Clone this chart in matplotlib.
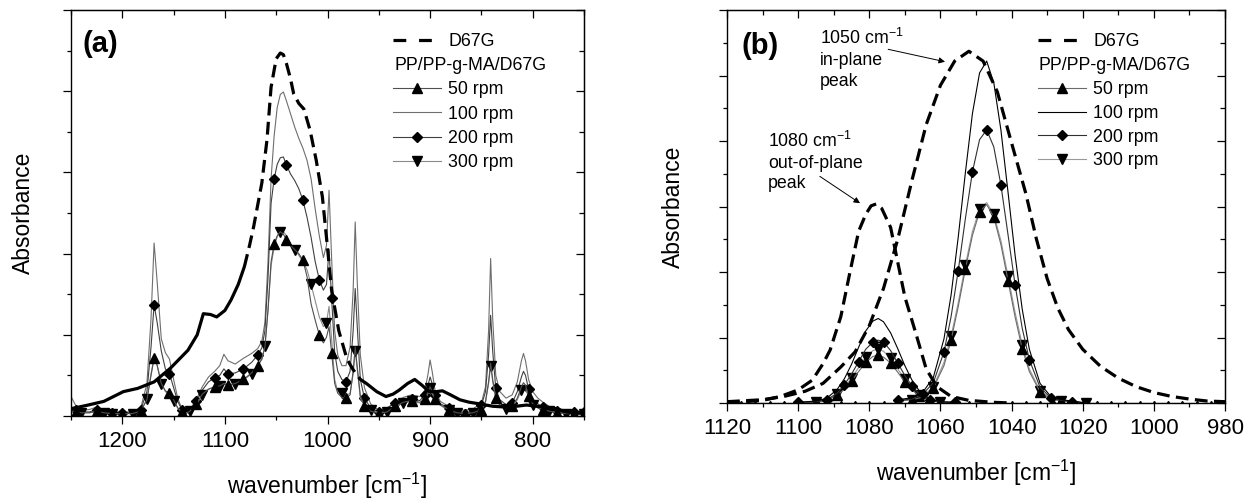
import matplotlib
matplotlib.use('Agg')
import matplotlib.pyplot as plt
import numpy as np
from matplotlib.ticker import MultipleLocator, NullFormatter
from matplotlib.lines import Line2D

plt.rcParams['font.family'] = ['Liberation Sans', 'DejaVu Sans']
plt.rcParams['mathtext.fontset'] = 'custom'
plt.rcParams['mathtext.rm'] = 'Liberation Sans'
plt.rcParams['mathtext.it'] = 'Liberation Sans:italic'

# ---------------- panel (a): full spectra ----------------
wn_d67g_a = [1250, 1235, 1218, 1199, 1185, 1169, 1153, 1136, 1127, 1121, 1114, 1108, 1100, 1094, 1087,
             1081, 1076, 1072, 1068, 1064, 1059, 1055, 1050, 1046, 1043, 1040, 1036, 1033, 1028, 1023,
             1017, 1011, 1005, 1001, 996, 989, 981, 975, 968, 962, 952, 943, 936, 930, 922,
             915, 908, 901, 894, 888, 880, 871, 862, 852, 839, 826, 816, 806, 796, 787,
             777, 767, 759, 750]
abs_d67g_a = [0.09, 0.13, 0.18, 0.30, 0.34, 0.42, 0.59, 0.81, 1.00, 1.26, 1.25, 1.22, 1.30, 1.43, 1.62,
              1.84, 2.10, 2.33, 2.60, 2.87, 3.40, 4.05, 4.40, 4.47, 4.45, 4.34, 4.15, 3.97, 3.85, 3.78,
              3.52, 3.15, 2.70, 2.20, 1.55, 1.05, 0.70, 0.57, 0.45, 0.40, 0.30, 0.24, 0.27, 0.32, 0.40,
              0.45, 0.38, 0.30, 0.30, 0.31, 0.26, 0.20, 0.17, 0.15, 0.12, 0.11, 0.12, 0.135, 0.12, 0.11,
              0.09, 0.05, 0.04, 0.03]

wn_a = [1250, 1245, 1240, 1232, 1225, 1218, 1210, 1200, 1190, 1182, 1176, 1172, 1169, 1166, 1162,
        1158, 1154, 1150, 1146, 1142, 1138, 1134, 1128, 1122, 1116, 1110, 1105, 1101, 1097, 1090,
        1082, 1074, 1068, 1064, 1061, 1058, 1055, 1052, 1049, 1046, 1043, 1040, 1036, 1032, 1028,
        1024, 1020, 1016, 1012, 1008, 1004, 1001, 998.5, 996, 993, 990, 986, 982, 978, 975,
        973, 971, 968, 964, 958, 950, 942, 934, 926, 918, 910, 905, 902, 900, 898,
        895, 890, 882, 874, 866, 858, 850, 846, 843, 841, 839, 836, 832, 826, 820,
        815, 811, 809, 807, 804, 800, 795, 790, 784, 776, 768, 760, 750]

abs_50_a = [0.06, 0.05, 0.04, 0.04, 0.06, 0.04, 0.03, 0.03, 0.03, 0.06, 0.20, 0.50, 0.71, 0.62, 0.40,
            0.31, 0.28, 0.20, 0.10, 0.05, 0.03, 0.06, 0.15, 0.27, 0.33, 0.36, 0.37, 0.40, 0.38, 0.40,
            0.45, 0.53, 0.62, 0.70, 0.85, 1.30, 1.90, 2.12, 2.22, 2.27, 2.24, 2.17, 2.10, 2.05, 2.00,
            1.92, 1.72, 1.38, 1.18, 1.00, 0.90, 0.97, 1.10, 0.78, 0.40, 0.28, 0.23, 0.22, 0.26, 0.55,
            0.85, 0.60, 0.25, 0.12, 0.06, 0.03, 0.05, 0.12, 0.17, 0.19, 0.17, 0.21, 0.30, 0.36, 0.30,
            0.21, 0.14, 0.08, 0.04, 0.03, 0.04, 0.08, 0.18, 0.42, 0.65, 0.45, 0.22, 0.14, 0.10, 0.12,
            0.22, 0.36, 0.41, 0.38, 0.25, 0.15, 0.10, 0.08, 0.06, 0.04, 0.03, 0.03, 0.03]
abs_100_a = [0.24, 0.12, 0.07, 0.08, 0.11, 0.07, 0.05, 0.05, 0.05, 0.10, 0.40, 1.20, 2.13, 1.65, 0.95,
             0.78, 0.70, 0.45, 0.22, 0.09, 0.05, 0.08, 0.20, 0.36, 0.48, 0.55, 0.62, 0.76, 0.68, 0.64,
             0.71, 0.77, 0.83, 0.92, 1.15, 1.90, 2.92, 3.45, 3.80, 3.96, 3.99, 3.88, 3.72, 3.56, 3.42,
             3.30, 3.15, 2.92, 2.55, 2.22, 1.95, 2.10, 2.78, 1.95, 1.05, 0.75, 0.62, 0.62, 0.85, 1.55,
             2.39, 1.65, 0.75, 0.35, 0.15, 0.07, 0.09, 0.17, 0.23, 0.26, 0.24, 0.32, 0.52, 0.69, 0.55,
             0.30, 0.18, 0.12, 0.08, 0.07, 0.09, 0.16, 0.36, 1.05, 1.94, 1.20, 0.50, 0.30, 0.22, 0.26,
             0.42, 0.68, 0.77, 0.68, 0.45, 0.30, 0.22, 0.17, 0.12, 0.07, 0.05, 0.04, 0.03]
abs_200_a = [0.10, 0.07, 0.05, 0.05, 0.08, 0.05, 0.04, 0.04, 0.04, 0.08, 0.30, 0.85, 1.37, 1.15, 0.80,
             0.58, 0.52, 0.35, 0.18, 0.08, 0.04, 0.07, 0.18, 0.32, 0.42, 0.47, 0.50, 0.58, 0.52, 0.53,
             0.58, 0.66, 0.75, 0.84, 1.05, 1.70, 2.62, 2.92, 3.10, 3.18, 3.19, 3.09, 2.98, 2.90, 2.80,
             2.66, 2.45, 2.20, 1.90, 1.68, 1.55, 1.62, 2.05, 1.45, 0.78, 0.55, 0.45, 0.42, 0.55, 1.05,
             1.57, 1.10, 0.45, 0.22, 0.10, 0.05, 0.10, 0.16, 0.20, 0.21, 0.19, 0.26, 0.38, 0.48, 0.40,
             0.26, 0.15, 0.10, 0.05, 0.03, 0.06, 0.13, 0.30, 0.75, 1.24, 0.80, 0.34, 0.20, 0.14, 0.16,
             0.30, 0.48, 0.55, 0.50, 0.33, 0.20, 0.15, 0.11, 0.08, 0.06, 0.05, 0.05, 0.05]
abs_300_a = [0.06, 0.05, 0.04, 0.04, 0.05, 0.04, 0.03, 0.03, 0.03, 0.06, 0.21, 0.52, 0.72, 0.63, 0.40,
             0.30, 0.26, 0.19, 0.10, 0.05, 0.03, 0.06, 0.14, 0.26, 0.33, 0.36, 0.37, 0.40, 0.38, 0.39,
             0.44, 0.52, 0.62, 0.70, 0.86, 1.30, 1.85, 2.08, 2.21, 2.27, 2.27, 2.22, 2.12, 2.05, 1.98,
             1.90, 1.80, 1.62, 1.42, 1.22, 1.10, 1.15, 1.35, 0.95, 0.45, 0.30, 0.28, 0.25, 0.28, 0.52,
             0.80, 0.58, 0.22, 0.14, 0.08, 0.04, 0.05, 0.11, 0.16, 0.18, 0.16, 0.20, 0.28, 0.34, 0.28,
             0.20, 0.13, 0.07, 0.04, 0.03, 0.04, 0.07, 0.17, 0.40, 0.62, 0.43, 0.21, 0.13, 0.09, 0.11,
             0.20, 0.32, 0.36, 0.34, 0.23, 0.14, 0.10, 0.08, 0.06, 0.04, 0.03, 0.03, 0.03]

# ---------------- panel (b): fitted component peaks ----------------
wn_d67g_b1 = [1120, 1110, 1105, 1100, 1096, 1093, 1091, 1088, 1085.5, 1083, 1081, 1079.5, 1078, 1076.5,
              1074, 1072, 1070, 1067, 1064, 1061, 1057, 1052, 1045, 1040]
abs_d67g_b1 = [0.0, 0.04, 0.10, 0.20, 0.35, 0.60, 0.81, 1.32, 1.98, 2.62, 2.88, 3.01, 3.04, 2.97,
               2.68, 2.15, 1.62, 1.08, 0.52, 0.25, 0.10, 0.04, 0.01, 0.0]
wn_d67g_b2 = [1120, 1110, 1104, 1098, 1093, 1088, 1084, 1080, 1076, 1072, 1068, 1064, 1060, 1056, 1052,
              1048, 1044, 1040, 1036, 1033, 1030, 1027, 1024, 1020, 1015, 1010, 1005, 1000, 995, 990,
              985, 980]
abs_d67g_b2 = [0.02, 0.05, 0.10, 0.18, 0.30, 0.55, 0.78, 1.18, 1.75, 2.50, 3.40, 4.25, 4.85, 5.22, 5.37,
               5.22, 4.75, 3.97, 3.20, 2.50, 1.90, 1.45, 1.12, 0.82, 0.56, 0.38, 0.25, 0.16, 0.10, 0.06,
               0.03, 0.02]

wn_low_b = [1100, 1095, 1092, 1089, 1087, 1085, 1083, 1081, 1079, 1077.5, 1076, 1074, 1072, 1070, 1068,
            1066, 1063, 1060, 1056]
abs_50_low = [0.0, 0.01, 0.04, 0.12, 0.21, 0.34, 0.48, 0.62, 0.71, 0.73, 0.70, 0.61, 0.47, 0.32, 0.20,
              0.11, 0.04, 0.01, 0.0]
abs_100_low = [0.01, 0.03, 0.07, 0.21, 0.37, 0.59, 0.85, 1.10, 1.25, 1.29, 1.24, 1.07, 0.83, 0.57, 0.35,
               0.19, 0.06, 0.02, 0.01]
abs_200_low = [0.01, 0.02, 0.05, 0.15, 0.28, 0.44, 0.63, 0.82, 0.93, 0.96, 0.93, 0.80, 0.61, 0.42, 0.26,
               0.14, 0.05, 0.02, 0.01]
abs_300_low = [0.01, 0.02, 0.04, 0.13, 0.24, 0.38, 0.54, 0.70, 0.80, 0.82, 0.79, 0.68, 0.52, 0.36, 0.22,
               0.12, 0.04, 0.01, 0.0]

wn_high_b = [1072, 1068, 1065, 1062, 1059, 1057, 1055, 1053, 1051, 1049, 1047, 1045, 1043, 1041, 1039,
             1037, 1035, 1032, 1029, 1026, 1023, 1019]
abs_50_high = [0.03, 0.05, 0.09, 0.23, 0.57, 0.96, 1.47, 2.04, 2.56, 2.92, 3.03, 2.84, 2.42, 1.87, 1.31,
               0.83, 0.48, 0.17, 0.06, 0.03, 0.02, 0.0]
abs_100_high = [0.05, 0.08, 0.16, 0.39, 0.98, 1.65, 2.53, 3.51, 4.42, 5.04, 5.22, 4.89, 4.17, 3.22, 2.25,
                1.43, 0.82, 0.30, 0.10, 0.05, 0.03, 0.0]
abs_200_high = [0.04, 0.06, 0.13, 0.31, 0.78, 1.32, 2.02, 2.81, 3.53, 4.02, 4.17, 3.91, 3.33, 2.57, 1.80,
                1.14, 0.66, 0.24, 0.08, 0.04, 0.02, 0.0]
abs_300_high = [0.03, 0.05, 0.10, 0.25, 0.62, 1.02, 1.53, 2.10, 2.62, 2.96, 3.06, 2.88, 2.48, 1.94, 1.38,
                0.89, 0.52, 0.19, 0.07, 0.03, 0.02, 0.0]

wn_base_b = [1120, 1116, 1112, 1108, 1104, 1100, 1096, 1092, 1088, 1084, 1080, 1076, 1072, 1068, 1064,
             1060, 1056, 1052, 1048, 1044, 1040, 1036, 1032, 1028, 1024, 1020, 1016, 1012, 1008, 1004,
             1000, 996, 992, 988, 984, 980]
abs_base_b = [0.0] * len(wn_base_b)

labels = ['50 rpm', '100 rpm', '200 rpm', '300 rpm']
styles_a = {
    '50 rpm': dict(color='#505050', marker='^', ms=6.5),
    '100 rpm': dict(color='#6e6e6e', marker=None, ms=0),
    '200 rpm': dict(color='#404040', marker='D', ms=5),
    '300 rpm': dict(color='#8a8a8a', marker='v', ms=6.5),
}
styles_b = {
    '50 rpm': dict(color='#6a6a6a', marker='^', ms=6.5),
    '100 rpm': dict(color='black', marker=None, ms=0),
    '200 rpm': dict(color='#303030', marker='D', ms=5),
    '300 rpm': dict(color='#999999', marker='v', ms=6.5),
}
mark_start_a = {'50 rpm': 1243, '200 rpm': 1243, '300 rpm': 1236}
DASH = (4, 2)
LW_D67G = 2.3
LW_S = 0.8
FS_LEG = 12.8


def mark_index(wn, start, step=14.6):
    wn = np.asarray(wn)
    targets = np.arange(start, 745, -step)
    return sorted({int(np.abs(wn - t).argmin()) for t in targets})


def style_axes(ax, xmaj, xmin, ymaj, ymin, xlim, ylim, pad):
    ax.set_xlim(*xlim)
    ax.set_ylim(*ylim)
    ax.xaxis.set_major_locator(MultipleLocator(xmaj))
    ax.xaxis.set_minor_locator(MultipleLocator(xmin))
    ax.yaxis.set_major_locator(MultipleLocator(ymaj))
    ax.yaxis.set_minor_locator(MultipleLocator(ymin))
    ax.yaxis.set_major_formatter(NullFormatter())
    ax.tick_params(which='both', direction='out', width=0.9, labelsize=16, pad=pad)
    ax.tick_params(which='major', length=5.5)
    ax.tick_params(which='minor', length=3)
    for s in ax.spines.values():
        s.set_linewidth(1.0)
    top = ax.secondary_xaxis('top')
    top.xaxis.set_major_locator(MultipleLocator(xmaj))
    top.xaxis.set_minor_locator(MultipleLocator(xmin))
    top.tick_params(which='both', direction='in', labeltop=False, width=0.9)
    top.tick_params(which='major', length=5.5)
    top.tick_params(which='minor', length=3.5)
    right = ax.secondary_yaxis('right')
    right.yaxis.set_major_locator(MultipleLocator(ymaj))
    right.yaxis.set_minor_locator(MultipleLocator(ymin))
    right.tick_params(which='both', direction='in', labelright=False, width=0.9)
    right.tick_params(which='major', length=5.5)
    right.tick_params(which='minor', length=3.5)


def add_legend(ax, styles, x0, y_d67g, y_head, y_rows, spacing):
    h_d = [Line2D([], [], color='black', lw=LW_D67G, dashes=(4, 4))]
    leg1 = ax.legend(h_d, ['D67G'], loc='upper left', bbox_to_anchor=(x0, y_d67g), frameon=False,
                     borderpad=0, borderaxespad=0, handlelength=2.7, handletextpad=0.4, fontsize=FS_LEG)
    ax.add_artist(leg1)
    ax.text(x0 + 0.002, y_head, 'PP/PP-g-MA/D67G', transform=ax.transAxes, fontsize=FS_LEG, va='center')
    hs = [Line2D([], [], color=styles[k]['color'], lw=LW_S, marker=styles[k]['marker'],
                 ms=styles[k]['ms'], mfc='black', mec='black') for k in labels]
    ax.legend(hs, labels, loc='upper left', bbox_to_anchor=(x0, y_rows), frameon=False, numpoints=1,
              borderpad=0, borderaxespad=0, handlelength=2.7, handletextpad=0.4, fontsize=FS_LEG,
              labelspacing=spacing)


fig = plt.figure(figsize=(12.54, 5.0), dpi=100)
ax_a = fig.add_axes([71 / 1254, 1 - 416 / 500, 513 / 1254, 406 / 500])
ax_b = fig.add_axes([727 / 1254, 1 - 403 / 500, 498 / 1254, 393 / 500])

# panel (a)
series_a = {'50 rpm': abs_50_a, '100 rpm': abs_100_a, '200 rpm': abs_200_a, '300 rpm': abs_300_a}
for k in ['100 rpm', '200 rpm', '300 rpm', '50 rpm']:
    st = styles_a[k]
    if st['marker']:
        ax_a.plot(wn_a, series_a[k], color=st['color'], lw=LW_S, marker=st['marker'], ms=st['ms'],
                  mfc='black', mec='black', markevery=mark_index(wn_a, mark_start_a[k]))
    else:
        ax_a.plot(wn_a, series_a[k], color=st['color'], lw=LW_S)

# D67G: solid-looking where the spectrum is flat, dashed on the steep band
wd = np.array(wn_d67g_a)
hd = np.array(abs_d67g_a)
solid_hi = wd >= 1081
dashed = (wd <= 1081) & (wd >= 968)
solid_lo = wd <= 968
ax_a.plot(wd[solid_hi], hd[solid_hi], color='black', lw=LW_D67G, solid_capstyle='round')
ax_a.plot(wd[dashed], hd[dashed], color='black', lw=LW_D67G, dashes=DASH)
ax_a.plot(wd[solid_lo], hd[solid_lo], color='black', lw=LW_D67G, solid_capstyle='round')

style_axes(ax_a, 100, 50, 1, 0.5, (1250, 750), (0, 5), pad=5.5)
ax_a.set_xlabel(r'wavenumber [cm$^{\mathregular{-1}}$]', fontsize=16.5, labelpad=13)
ax_a.set_ylabel('Absorbance', fontsize=16.5, labelpad=15)
ax_a.text(0.023, 0.95, '(a)', transform=ax_a.transAxes, fontsize=21, fontweight='bold', va='top')
add_legend(ax_a, styles_a, 0.628, 0.943, 0.8645, 0.825, 0.42)

# panel (b)
ax_b.plot(wn_base_b, abs_base_b, color='black', lw=LW_S, marker='^', ms=3, mfc='black', mec='black')
low_b = {'50 rpm': abs_50_low, '100 rpm': abs_100_low, '200 rpm': abs_200_low, '300 rpm': abs_300_low}
high_b = {'50 rpm': abs_50_high, '100 rpm': abs_100_high, '200 rpm': abs_200_high, '300 rpm': abs_300_high}
offs = {'50 rpm': 1, '200 rpm': 0, '300 rpm': 1}
for k in ['300 rpm', '50 rpm', '200 rpm', '100 rpm']:
    st = styles_b[k]
    for wn, vals in [(wn_low_b, low_b[k]), (wn_high_b, high_b[k])]:
        if st['marker']:
            ax_b.plot(wn, vals, color=st['color'], lw=LW_S, marker=st['marker'], ms=st['ms'],
                      mfc='black', mec='black', markevery=(offs[k], 2))
        else:
            ax_b.plot(wn, vals, color=st['color'], lw=LW_S)
ax_b.plot(wn_d67g_b1, abs_d67g_b1, color='black', lw=LW_D67G, dashes=DASH)
ax_b.plot(wn_d67g_b2, abs_d67g_b2, color='black', lw=LW_D67G, dashes=DASH)

style_axes(ax_b, 20, 10, 1, 0.5, (1120, 980), (0, 6), pad=5.5)
ax_b.set_xlabel(r'wavenumber [cm$^{\mathregular{-1}}$]', fontsize=16.5, labelpad=13)
ax_b.set_ylabel('Absorbance', fontsize=16.5, labelpad=19)
ax_b.text(0.03, 0.945, '(b)', transform=ax_b.transAxes, fontsize=21, fontweight='bold', va='top')
add_legend(ax_b, styles_b, 0.6245, 0.9415, 0.860, 0.819, 0.38)

# peak annotations: text blocks and separate arrows
ax_b.text(1093.9, 5.73, '1050 cm$^{\\mathregular{-1}}$\nin-plane\npeak', fontsize=FS_LEG,
          va='top', ha='left', linespacing=1.3)
ax_b.text(1108.5, 4.16, '1080 cm$^{\\mathregular{-1}}$\nout-of-plane\npeak', fontsize=FS_LEG,
          va='top', ha='left', linespacing=1.3)
arrow = dict(arrowstyle='-|>', color='black', lw=0.7, mutation_scale=9, shrinkA=0, shrinkB=0)
ax_b.annotate('', xy=(1058.7, 5.21), xytext=(1074.7, 5.40), arrowprops=arrow)
ax_b.annotate('', xy=(1082.6, 3.05), xytext=(1093.9, 3.46), arrowprops=arrow)

fig.savefig('out.png', dpi=100, facecolor='white')
